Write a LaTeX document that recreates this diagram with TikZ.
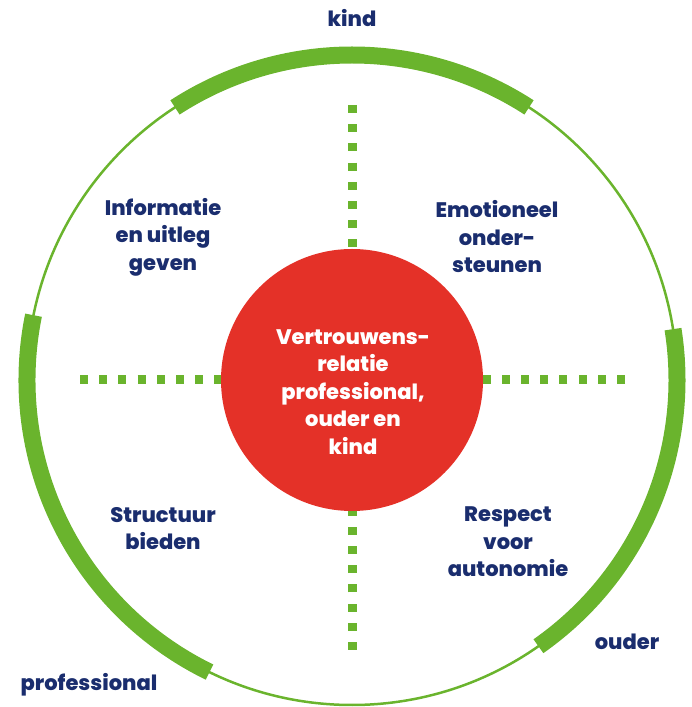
\documentclass[tikz,border=0pt]{standalone}
\usepackage{fontspec}
\setmainfont{Poppins}[BoldFont={Poppins ExtraBold}]
\definecolor{navy}{RGB}{26,45,110}
\definecolor{lgreen}{RGB}{106,180,45}
\definecolor{cred}{RGB}{228,49,40}
\begin{document}
\begin{tikzpicture}[x=1pt,y=1pt,
  lbl/.style={text=navy,font=\fontsize{21}{27.5}\selectfont\bfseries,align=center,inner sep=0pt},
  ctext/.style={text=white,font=\fontsize{21}{27.5}\selectfont\bfseries,align=center,inner sep=0pt},
  thinring/.style={draw=lgreen,line width=2.5pt},
  thickarc/.style={draw=lgreen,line width=17pt},
  dots/.style={draw=lgreen,line width=9pt,dash pattern=on 8pt off 11.2pt}]
\useasboundingbox (0,0) rectangle (692,707);
\coordinate (c) at (352,327);
\coordinate (dl) at (80,327);
\coordinate (dr) at (625,327);
\coordinate (dt) at (352,602);
\coordinate (db) at (352,57);
\draw[thinring] (c) circle[radius=325pt];
\draw[thickarc] (c) ++(57:325pt) arc[start angle=57,end angle=123,radius=325pt];
\draw[thickarc] (c) ++(168.5:325pt) arc[start angle=168.5,end angle=244,radius=325pt];
\draw[thickarc] (c) ++(-55:325pt) arc[start angle=-55,end angle=9,radius=325pt];
\draw[dots] (dl) -- (c);
\draw[dots] (dr) -- (c);
\draw[dots] (dt) -- (c);
\draw[dots] (db) -- (c);
\node[circle,fill=cred,minimum size=262pt,inner sep=0pt] (red) at (c) {};
\node[ctext] (ct) at (353,315) {Vertrouwens-\\relatie\\professional,\\ouder en\\kind};
\node[lbl] (info) at (163,470) {Informatie\\en uitleg\\geven};
\node[lbl] (emo) at (497,470) {Emotioneel\\onder-\\steunen};
\node[lbl] (struct) at (163,178.5) {Structuur\\bieden};
\node[lbl] (resp) at (508,165) {Respect\\voor\\autonomie};
\node[lbl] (kind) at (352,689) {kind};
\node[lbl] (prof) at (89,22) {professional};
\node[lbl] (ouder) at (627,65) {ouder};
\end{tikzpicture}
\end{document}
